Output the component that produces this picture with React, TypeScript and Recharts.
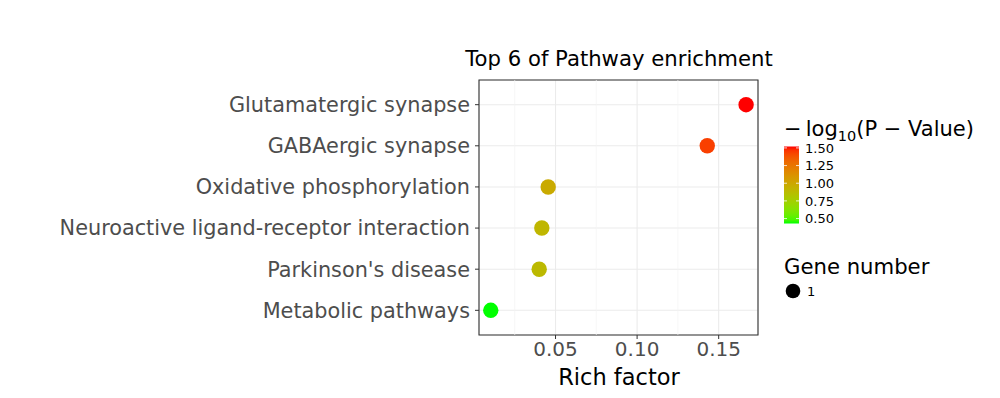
import { ScatterChart, Scatter, XAxis, YAxis, CartesianGrid, ReferenceLine, ReferenceArea, Cell } from 'recharts';

const pathways = [
  'Metabolic pathways',
  "Parkinson's disease",
  'Neuroactive ligand-receptor interaction',
  'Oxidative phosphorylation',
  'GABAergic synapse',
  'Glutamatergic synapse',
];
const richFactor = [0.0103, 0.04, 0.0416, 0.0455, 0.143, 0.1668];
const negLog10P = [0.43, 0.89, 0.91, 0.98, 1.44, 1.52];
const geneNumber = [1, 1, 1, 1, 1, 1];
const xTicks = [0.05, 0.1, 0.15];
const xMinorTicks = [0.025, 0.075, 0.125];
const colorTicks = [1.5, 1.25, 1.0, 0.75, 0.5];
const sizeTicks = [1];

const FONT = '"DejaVu Sans", sans-serif';

// ggplot-like gradient: green -> red interpolated in CIELAB
const toLin = (c: number) => (c <= 0.04045 ? c / 12.92 : Math.pow((c + 0.055) / 1.055, 2.4));
const fromLin = (c: number) => (c <= 0.0031308 ? 12.92 * c : 1.055 * Math.pow(c, 1 / 2.4) - 0.055);
const Wn = [0.95047, 1, 1.08883];

function rgbToLab(rgb: number[]) {
  const [r, g, b] = rgb.map((v) => toLin(v / 255));
  const xyz = [
    0.4124 * r + 0.3576 * g + 0.1805 * b,
    0.2126 * r + 0.7152 * g + 0.0722 * b,
    0.0193 * r + 0.1192 * g + 0.9505 * b,
  ];
  const f = (t: number) => (t > 0.008856 ? Math.cbrt(t) : 7.787 * t + 16 / 116);
  const [fx, fy, fz] = xyz.map((v, i) => f(v / Wn[i]));
  return [116 * fy - 16, 500 * (fx - fy), 200 * (fy - fz)];
}

function labToHex(lab: number[]) {
  const fy = (lab[0] + 16) / 116;
  const fx = fy + lab[1] / 500;
  const fz = fy - lab[2] / 200;
  const inv = (t: number) => (t > 0.206893 ? t * t * t : (t - 16 / 116) / 7.787);
  const [x, y, z] = [inv(fx) * Wn[0], inv(fy) * Wn[1], inv(fz) * Wn[2]];
  const r = 3.2406 * x - 1.5372 * y - 0.4986 * z;
  const g = -0.9689 * x + 1.8758 * y + 0.0415 * z;
  const b = 0.0557 * x - 0.204 * y + 1.057 * z;
  const h = (c: number) => {
    const v = Math.round(Math.min(1, Math.max(0, fromLin(c))) * 255);
    return v.toString(16).padStart(2, '0');
  };
  return '#' + h(r) + h(g) + h(b);
}

const LOW = rgbToLab([0, 255, 0]);
const HIGH = rgbToLab([255, 0, 0]);
const cMin = Math.min(...negLog10P);
const cMax = Math.max(...negLog10P);
function colorFor(v: number) {
  const t = (v - cMin) / (cMax - cMin);
  return labToHex(LOW.map((l, i) => l + (HIGH[i] - l) * t));
}

const data = pathways.map((name, i) => ({
  name,
  y: i + 1,
  x: richFactor[i],
  p: negLog10P[i],
  count: geneNumber[i],
}));

const X_DOMAIN = [0.0031, 0.1741];
const Y_DOMAIN = [0.4, pathways.length + 0.6];

const Dot = (props: any) => <circle cx={props.cx} cy={props.cy} r={7.7} fill={props.fill} />;

function Legend() {
  // colourbar geometry
  const barX = 784;
  const barTop = 146.5;
  const barBottom = 223.5;
  const barW = 15;
  const toY = (v: number) => barBottom - ((v - cMin) / (cMax - cMin)) * (barBottom - barTop);
  const stops = Array.from({ length: 21 }, (_, k) => k / 20);
  return (
    <svg width={1000} height={398} style={{ position: 'absolute', left: 0, top: 0, pointerEvents: 'none' }}>
      <defs>
        <linearGradient id="cbar" x1="0" y1="1" x2="0" y2="0">
          {stops.map((s) => (
            <stop key={s} offset={s} stopColor={colorFor(cMin + s * (cMax - cMin))} />
          ))}
        </linearGradient>
      </defs>
      <text x={619} y={66} textAnchor="middle" fontFamily={FONT} fontSize={21.2} fill="#000">
        Top 6 of Pathway enrichment
      </text>
      <text x={619} y={385} textAnchor="middle" fontFamily={FONT} fontSize={22.5} fill="#000">
        Rich factor
      </text>
      <text x={784} y={136} fontFamily={FONT} fontSize={21} fill="#000">
        {'\u2212\u2009log'}
        <tspan fontSize={14.5} dy={5}>10</tspan>
        <tspan dy={-5}>{'(P \u2212 Value)'}</tspan>
      </text>
      <rect x={barX} y={barTop} width={barW} height={barBottom - barTop} fill="url(#cbar)" />
      {colorTicks.map((v) => (
        <g key={v}>
          <line x1={barX} x2={barX + 3} y1={toY(v)} y2={toY(v)} stroke="#fff" strokeWidth={0.8} />
          <line x1={barX + barW - 3} x2={barX + barW} y1={toY(v)} y2={toY(v)} stroke="#fff" strokeWidth={0.8} />
          <text x={805} y={toY(v)} dy="0.36em" fontFamily={FONT} fontSize={13} fill="#000">
            {v.toFixed(2)}
          </text>
        </g>
      ))}
      <text x={784} y={274} fontFamily={FONT} fontSize={21.2} fill="#000">
        Gene number
      </text>
      {sizeTicks.map((s) => (
        <g key={s}>
          <circle cx={793} cy={291} r={7.3} fill="#000" />
          <text x={807} y={291} dy="0.36em" fontFamily={FONT} fontSize={13} fill="#000">
            {s}
          </text>
        </g>
      ))}
    </svg>
  );
}

export default function App() {
  return (
    <div style={{ position: 'absolute', left: 0, top: 0, width: 1000, height: 398, background: '#fff' }}>
      <ScatterChart width={1000} height={398} margin={{ top: 80, right: 242, bottom: 0, left: 0 }}>
        <CartesianGrid stroke="#EBEBEB" strokeWidth={1.1} />
        {xMinorTicks.map((t) => (
          <ReferenceLine key={t} x={t} stroke="#F3F3F3" strokeWidth={0.7} />
        ))}
        <XAxis
          type="number"
          dataKey="x"
          domain={X_DOMAIN}
          ticks={xTicks}
          allowDataOverflow
          height={63}
          axisLine={false}
          tickSize={4}
          tickMargin={3}
          tickLine={{ stroke: '#333333' }}
          tickFormatter={(v: number) => v.toFixed(2)}
          tick={{ fontFamily: FONT, fontSize: 20, fill: '#4D4D4D' }}
        />
        <YAxis
          type="number"
          dataKey="y"
          domain={Y_DOMAIN}
          ticks={data.map((d) => d.y)}
          allowDataOverflow
          width={479}
          axisLine={false}
          tickSize={4}
          tickMargin={5}
          tickLine={{ stroke: '#333333' }}
          tickFormatter={(v: number) => pathways[v - 1] ?? ''}
          tick={{ fontFamily: FONT, fontSize: 20.8, fill: '#4D4D4D' }}
        />
        <ReferenceArea
          x1={X_DOMAIN[0]}
          x2={X_DOMAIN[1]}
          y1={Y_DOMAIN[0]}
          y2={Y_DOMAIN[1]}
          fill="none"
          stroke="#333333"
          strokeWidth={1.1}
        />
        <Scatter data={data} shape={Dot} isAnimationActive={false}>
          {data.map((d) => (
            <Cell key={d.name} fill={colorFor(d.p)} />
          ))}
        </Scatter>
      </ScatterChart>
      <Legend />
    </div>
  );
}
